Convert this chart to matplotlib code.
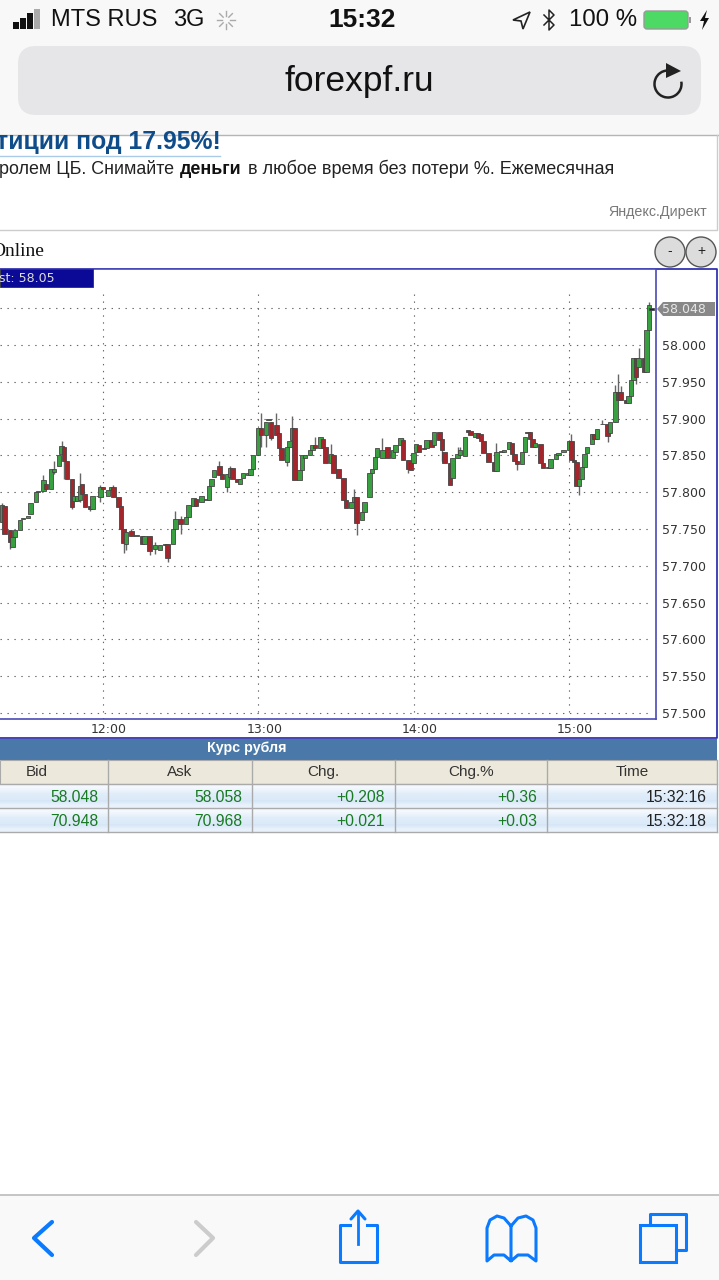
import numpy as np
import matplotlib
matplotlib.use("Agg")
import matplotlib.pyplot as plt
from matplotlib.patches import Rectangle, FancyBboxPatch, Circle, Arc, Polygon
from matplotlib.transforms import ScaledTranslation

# candles: minutes relative to 12:00, prices
minutes = [-39, -38, -36, -35, -34, -32, -31, -29, -28, -26, -25, -23, -22, -20, -19, -17, -16, -15, -14, -12,
           -11, -10, -9, -8, -7, -5, -4, -2, -1, 0, 2, 3, 4, 6, 7, 8, 9, 11, 13, 15,
           16, 18, 20, 22, 24, 25, 27, 28, 30, 32, 33, 35, 36, 38, 40, 41, 42, 43, 45, 46,
           48, 49, 50, 52, 53, 54, 56, 57, 58, 60, 61, 63, 64, 65, 67, 68, 69, 71, 72, 73,
           74, 76, 77, 78, 80, 81, 82, 84, 85, 86, 88, 89, 91, 93, 94, 96, 97, 98, 100, 101,
           103, 104, 105, 106, 108, 110, 112, 113, 115, 116, 118, 119, 120, 121, 122, 124, 125, 127, 128, 130,
           131, 132, 134, 135, 137, 138, 140, 141, 142, 144, 145, 146, 147, 149, 151, 152, 154, 155, 157, 158,
           159, 160, 162, 163, 164, 165, 166, 167, 169, 170, 172, 173, 175, 176, 178, 180, 181, 182, 183, 184,
           185, 186, 187, 189, 190, 191, 193, 195, 196, 198, 199, 200, 202, 203, 204, 205, 206, 207, 209, 210,
           211, 212]
opens = [57.759, 57.781, 57.748, 57.725, 57.739, 57.748, 57.764, 57.765, 57.770, 57.786, 57.800, 57.802, 57.811, 57.805, 57.827, 57.835, 57.852, 57.862, 57.843, 57.818,
         57.788, 57.788, 57.789, 57.811, 57.798, 57.781, 57.777, 57.795, 57.794, 57.807, 57.795, 57.803, 57.807, 57.793, 57.781, 57.750, 57.730, 57.747, 57.741, 57.741,
         57.729, 57.741, 57.723, 57.721, 57.728, 57.730, 57.730, 57.750, 57.764, 57.757, 57.766, 57.781, 57.791, 57.786, 57.789, 57.789, 57.809, 57.820, 57.836, 57.825,
         57.807, 57.820, 57.833, 57.818, 57.811, 57.819, 57.823, 57.823, 57.832, 57.850, 57.887, 57.878, 57.898, 57.896, 57.891, 57.880, 57.860, 57.841, 57.862, 57.871,
         57.887, 57.816, 57.830, 57.846, 57.850, 57.857, 57.864, 57.860, 57.872, 57.862, 57.839, 57.850, 57.832, 57.819, 57.789, 57.778, 57.787, 57.794, 57.762, 57.773,
         57.794, 57.826, 57.832, 57.848, 57.846, 57.862, 57.847, 57.855, 57.864, 57.871, 57.844, 57.839, 57.839, 57.855, 57.864, 57.859, 57.860, 57.871, 57.864, 57.882,
         57.872, 57.855, 57.839, 57.819, 57.846, 57.850, 57.849, 57.884, 57.883, 57.875, 57.880, 57.879, 57.870, 57.853, 57.841, 57.829, 57.854, 57.854, 57.859, 57.867,
         57.852, 57.843, 57.838, 57.854, 57.882, 57.882, 57.872, 57.861, 57.866, 57.839, 57.834, 57.833, 57.845, 57.851, 57.854, 57.858, 57.869, 57.844, 57.841, 57.808,
         57.818, 57.834, 57.853, 57.866, 57.879, 57.872, 57.893, 57.893, 57.880, 57.896, 57.936, 57.936, 57.925, 57.921, 57.931, 57.953, 57.983, 57.970, 57.983, 57.964,
         58.021, 58.050]
closes = [57.782, 57.743, 57.732, 57.739, 57.748, 57.762, 57.765, 57.768, 57.785, 57.800, 57.802, 57.816, 57.805, 57.832, 57.832, 57.851, 57.863, 57.843, 57.818, 57.780,
          57.795, 57.795, 57.809, 57.798, 57.780, 57.777, 57.795, 57.795, 57.807, 57.805, 57.803, 57.807, 57.793, 57.780, 57.750, 57.731, 57.746, 57.740, 57.742, 57.729,
          57.741, 57.720, 57.728, 57.728, 57.730, 57.711, 57.750, 57.764, 57.757, 57.766, 57.782, 57.792, 57.781, 57.795, 57.791, 57.809, 57.818, 57.830, 57.823, 57.818,
          57.825, 57.833, 57.818, 57.814, 57.818, 57.826, 57.826, 57.832, 57.850, 57.887, 57.878, 57.896, 57.899, 57.873, 57.878, 57.860, 57.844, 57.862, 57.869, 57.887,
          57.816, 57.830, 57.850, 57.850, 57.857, 57.864, 57.860, 57.875, 57.860, 57.839, 57.852, 57.826, 57.819, 57.789, 57.778, 57.787, 57.794, 57.758, 57.773, 57.787,
          57.826, 57.832, 57.848, 57.860, 57.858, 57.846, 57.858, 57.864, 57.873, 57.844, 57.831, 57.830, 57.853, 57.866, 57.855, 57.860, 57.871, 57.862, 57.882, 57.871,
          57.857, 57.839, 57.810, 57.846, 57.852, 57.857, 57.875, 57.882, 57.878, 57.880, 57.873, 57.870, 57.853, 57.841, 57.829, 57.854, 57.856, 57.857, 57.868, 57.852,
          57.843, 57.838, 57.854, 57.875, 57.880, 57.872, 57.861, 57.867, 57.839, 57.833, 57.833, 57.845, 57.852, 57.853, 57.858, 57.869, 57.844, 57.841, 57.808, 57.818,
          57.834, 57.852, 57.861, 57.879, 57.872, 57.886, 57.892, 57.877, 57.896, 57.936, 57.925, 57.925, 57.921, 57.931, 57.953, 57.983, 57.956, 57.983, 57.963, 58.021,
          58.054, 58.048]

# the wicks that stick out enough to read
wick_minutes = [-39, -36, -23, -19, -16, -15, -12, -9, -5, -1, 4, 8, 9, 11, 18, 20, 25, 28, 30, 45, 48, 49,
                61, 63, 65, 67, 71, 73, 82, 88, 97, 98, 108, 116, 118, 131, 137, 138,
                152, 160, 181, 184, 193, 195, 198, 199, 200, 206, 207, 211]
wick_highs = [57.785, 57.748, 57.823, 57.843, 57.870, 57.862, 57.818, 57.826, 57.781, 57.810, 57.810, 57.750, 57.746, 57.750, 57.741, 57.732, 57.730, 57.775, 57.768, 57.842, 57.825, 57.836,
              57.907, 57.896, 57.896, 57.907, 57.862, 57.903, 57.875, 57.866, 57.805, 57.794, 57.874, 57.874, 57.844, 57.872, 57.862, 57.862,
              57.867, 57.843, 57.879, 57.818, 57.898, 57.893, 57.946, 57.961, 57.944, 57.983, 57.996, 58.058]
wick_lows = [57.759, 57.723, 57.802, 57.825, 57.852, 57.818, 57.777, 57.786, 57.774, 57.786, 57.793, 57.718, 57.722, 57.740, 57.715, 57.716, 57.705, 57.750, 57.743, 57.823, 57.800, 57.820,
             57.862, 57.862, 57.871, 57.878, 57.835, 57.871, 57.860, 57.839, 57.787, 57.742, 57.846, 57.844, 57.826, 57.843, 57.846, 57.850,
             57.829, 57.830, 57.844, 57.796, 57.892, 57.868, 57.896, 57.925, 57.925, 57.947, 57.970, 58.021]

tick_prices = [57.5, 57.55, 57.6, 57.65, 57.7, 57.75, 57.8, 57.85, 57.9, 57.95, 58.0]
grid_prices = tick_prices + [58.05]
hour_minutes = [0, 60, 120, 180]
hour_labels = ["12:00", "13:00", "14:00", "15:00"]

table_header = ["Bid", "Ask", "Chg.", "Chg.%", "Time"]
table_rows = [["58.048", "58.058", "+0.208", "+0.36", "15:32:16"],
              ["70.948", "70.968", "+0.021", "+0.03", "15:32:18"]]
col_edges = [108, 252, 395, 547, 717]

SANS = ["Liberation Sans", "DejaVu Sans"]
BLUE = "#0a7aff"

fig = plt.figure(figsize=(7.19, 12.8), dpi=100, facecolor="white")

# page and phone chrome, in pixel coordinates
ui = fig.add_axes([0, 0, 1, 1], zorder=0)
ui.set_xlim(0, 719)
ui.set_ylim(1280, 0)
ui.axis("off")

ui.add_patch(Rectangle((0, 0), 719, 135, fc="#f8f8f8", ec="none"))
ui.plot([0, 719], [135, 135], color="#b5b5b5", lw=1)
ui.add_patch(FancyBboxPatch((18, 46), 683, 69, boxstyle="round,pad=0,rounding_size=18", fc="#e6e6e8", ec="none"))
ui.text(359, 82, "forexpf.ru", fontsize=25.5, family=SANS, ha="center", va="center", color="#111111")

# status bar
for bx, by, bc in zip([13, 20, 27, 34], [22, 18, 13, 9], ["#111", "#111", "#111", "#aaa"]):
    ui.add_patch(Rectangle((bx, by), 5.5, 29 - by, fc=bc, ec="none"))
ui.text(51, 20, "MTS RUS", fontsize=17, family=SANS, va="center", color="#111")
ui.text(173, 20, "3G", fontsize=17, family=SANS, va="center", color="#111")
for a in np.arange(0, 360, 45):
    ca, sa = np.cos(np.radians(a)), np.sin(np.radians(a))
    ui.plot([226 + 4 * ca, 226 + 9 * ca], [20 + 4 * sa, 20 + 9 * sa], color="#aaa", lw=1)
ui.text(362, 20, "15:32", fontsize=19, family=SANS, weight="bold", ha="center", va="center", color="#111")
ui.add_patch(Polygon([[530, 12], [513, 20], [521, 21], [523, 29]], closed=True, fc="none", ec="#222", lw=1.2))
ui.plot([544, 554, 549, 549, 554, 544], [15, 25, 30, 10, 15, 25], color="#222", lw=1.1)
ui.text(569, 20, "100 %", fontsize=17.3, family=SANS, va="center", color="#111")
ui.add_patch(FancyBboxPatch((644, 11), 44, 18, boxstyle="round,pad=0,rounding_size=3", fc="#4cd964", ec="#999", lw=1))
ui.add_patch(Rectangle((689, 17), 2, 6, fc="#999", ec="none"))
ui.add_patch(Polygon([[707, 10], [700, 21], [704, 21], [702, 30], [709, 18], [705, 18]], closed=True, fc="#111", ec="none"))

# reload icon
ui.add_patch(Arc((668, 84), 27, 27, theta1=-10, theta2=270, color="#222", lw=1.8))
ui.add_patch(Polygon([[666, 63], [681, 71], [666, 78]], closed=True, fc="#222", ec="none"))

# ad block
ui.text(-4, 142, "тиции под 17.95%!", fontsize=17.8, family=SANS, weight="bold", va="center", color="#0f4c8a", clip_on=True)
ui.plot([0, 220], [156, 156], color="#a9cbe8", lw=1)
ui.text(-1, 169, "ролем ЦБ. Снимайте ", fontsize=12.9, family=SANS, va="center", color="#222")
ui.text(180, 169, "деньги", fontsize=12.9, family=SANS, weight="bold", va="center", color="#111")
ui.text(248, 169, "в любое время без потери %. Ежемесячная", fontsize=13, family=SANS, va="center", color="#222")
ui.text(707, 212, "Яндекс.Директ", fontsize=10.3, family=SANS, ha="right", va="center", color="#777")
ui.plot([717, 717, 0], [135, 230, 230], color="#cccccc", lw=1)

# chart heading and zoom buttons
ui.text(-9, 251, "Online", fontsize=14, family=["Liberation Serif", "DejaVu Serif"], va="center", color="#111", clip_on=True)
for cx, sign in zip([670, 701], ["-", "+"]):
    ui.add_patch(Circle((cx, 252), 15, fc="#dcdcdc", ec="#555", lw=1))
    ui.text(cx, 251, sign, fontsize=10, family=SANS, ha="center", va="center", color="#222")

# outer chart frame
ui.plot([0, 717, 717, 0], [269, 269, 738, 738], color="#2222aa", lw=1.2)

# table
ui.add_patch(Rectangle((0, 739), 717, 21, fc="#4a78a8", ec="none"))
ui.text(247, 748, "Курс рубля", fontsize=10.3, family=SANS, weight="bold", ha="center", va="center", color="white")
ui.add_patch(Rectangle((0, 760), 717, 24, fc="#ece9dc", ec="#aaa", lw=0.8))
grad = np.array([[0.0], [0.45], [0.55], [1.0]])
cmap = matplotlib.colors.LinearSegmentedColormap.from_list("rowbg", ["#f3f8fe", "#e6f0fb", "#d6e6f7", "#e9f2fc"])
for top_y in [785, 809]:
    ui.imshow(grad, extent=(0, 717, top_y + 23, top_y), aspect="auto", cmap=cmap, zorder=1, interpolation="bilinear")
ui.set_xlim(0, 719)
ui.set_ylim(1280, 0)
for yl in [784, 808, 832]:
    ui.plot([0, 717], [yl, yl], color="#aaaaaa", lw=1, zorder=2)
for xe in col_edges:
    ui.plot([xe, xe], [760, 832], color="#aaaaaa", lw=1, zorder=2)
for xc, name in zip([37, 180, 323, 471, 632], table_header):
    ui.text(xc, 772, name, fontsize=11, family=SANS, ha="center", va="center", color="#333")
for top_y, row in zip([797, 821], table_rows):
    for xe, val in zip(col_edges, row):
        ui.text(xe - 10, top_y, val, fontsize=11.3, family=SANS, ha="right", va="center", color="#187a22" if xe < 717 else "#222", zorder=3)

# bottom toolbar
ui.add_patch(Rectangle((0, 1195), 719, 85, fc="#f9f9f9", ec="none"))
ui.plot([0, 719], [1195, 1195], color="#bbbbbb", lw=1.2)
ui.plot([52, 34, 52], [1222, 1238, 1255], color=BLUE, lw=3, solid_capstyle="round", solid_joinstyle="round")
ui.plot([196, 213, 196], [1222, 1238, 1255], color="#cccccc", lw=3, solid_capstyle="round", solid_joinstyle="round")
ui.plot([350, 340, 340, 377, 377, 367], [1225, 1225, 1262, 1262, 1225, 1225], color=BLUE, lw=2.2)
ui.plot([358, 358], [1244, 1212], color=BLUE, lw=2)
ui.plot([351, 358, 365], [1219, 1211, 1219], color=BLUE, lw=2.2, solid_capstyle="round")
ui.plot([511, 511, 504, 497, 490, 487, 487, 494, 504, 511, 518, 528, 536, 536, 533, 526, 518, 511],
        [1260, 1226, 1218, 1216, 1220, 1228, 1261, 1255, 1255, 1261, 1255, 1255, 1261, 1228, 1220, 1216, 1218, 1226],
        color=BLUE, lw=2.2, solid_joinstyle="round")
ui.add_patch(Rectangle((640, 1225), 36, 37, fc="none", ec=BLUE, lw=2.2))
ui.plot([650, 650, 686, 686, 676], [1225, 1214, 1214, 1250, 1250], color=BLUE, lw=2.2)

# price chart
ax = fig.add_axes([0, (1280 - 719) / 1280, 656 / 719, 450 / 1280], zorder=1)
ax.set_xlim(-39.8, 213.7)
ax.set_ylim(57.4918, 58.1033)
ax.spines["left"].set_visible(False)
for s in ["right", "bottom", "top"]:
    ax.spines[s].set_color("#4a4ab8")
    ax.spines[s].set_linewidth(1.2)

dots = (0, (1.25, 5))
ax.hlines(grid_prices, -39.8, 211, color="#666666", lw=0.8, linestyle=dots, zorder=1)
ax.vlines(hour_minutes, 57.4918, 58.074, color="#666666", lw=0.8, linestyle=dots, zorder=1)

ax.vlines(wick_minutes, wick_lows, wick_highs, color="#666666", lw=1.0, zorder=2)
body_colors = ["#38a040" if c >= o else "#a2262c" for o, c in zip(opens, closes)]
body_colors[-1] = "#1a1a80"
ax.bar(minutes, np.array(closes) - np.array(opens), bottom=opens, width=1.7,
       color=body_colors, edgecolor="#454545", linewidth=0.6, zorder=3)

ax.yaxis.tick_right()
ax.set_yticks(tick_prices)
ax.set_yticklabels(["%.3f" % p for p in tick_prices], fontsize=9, color="#333333")
ax.tick_params(axis="y", length=0, pad=4)
ax.set_xticks(hour_minutes)
ax.set_xticklabels(hour_labels, fontsize=9, color="#333333")
ax.tick_params(axis="x", length=0, pad=3)
for lab in ax.get_xticklabels():
    lab.set_transform(lab.get_transform() + ScaledTranslation(6 / 100, 0, fig.dpi_scale_trans))

# last price box and tag sit above the chart
top = fig.add_axes([0, 0, 1, 1], zorder=2, facecolor="none")
top.set_xlim(0, 719)
top.set_ylim(1280, 0)
top.axis("off")
top.add_patch(Rectangle((0, 269), 93, 18, fc="#0a0a96", ec="#333", lw=0.6))
top.text(-1, 278, "st: 58.05", fontsize=9, ha="left", va="center", color="#dddddd")
top.add_patch(Polygon([[657, 309], [663, 302], [715, 302], [715, 316], [663, 316]], closed=True, fc="#888888", ec="none"))
top.text(662, 309.5, "58.048", fontsize=9, va="center", color="#e8e8e8")

fig.savefig("out.png", dpi=100)
plt.close(fig)
